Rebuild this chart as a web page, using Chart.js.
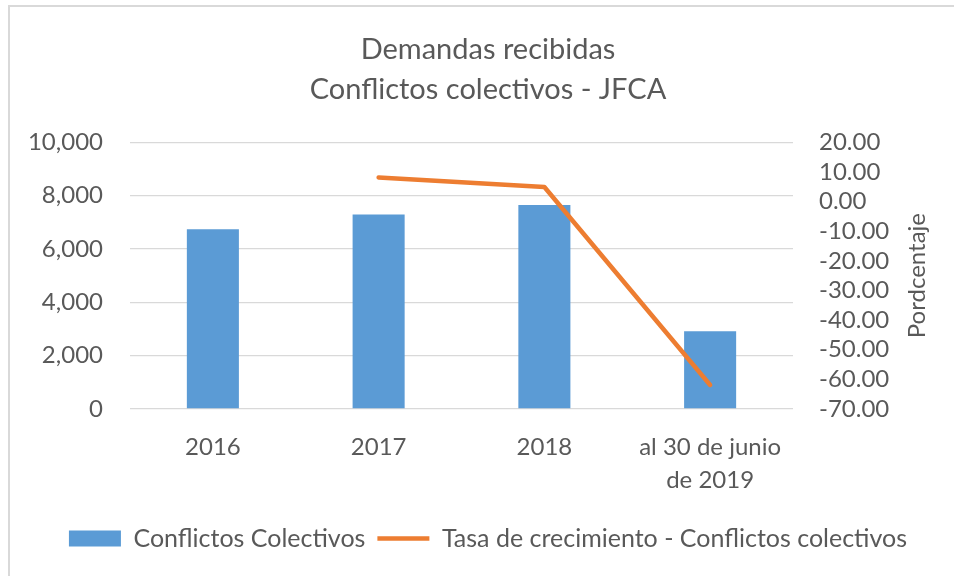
<!DOCTYPE html>
<html>
<head>
<meta charset="utf-8">
<script src="https://cdn.jsdelivr.net/npm/chart.js@4"></script>
<style>
  html, body { margin: 0; padding: 0; background: #ffffff; overflow: hidden; width: 954px; height: 576px; }
  #wrap { position: absolute; left: 8px; top: 5px; width: 960px; height: 620px; border: 2px solid #d9d9d9; box-sizing: border-box; background: #fff; }
  #c { position: absolute; left: 0; top: 0; }
</style>
</head>
<body>
<div id="wrap"><canvas id="c" width="956" height="616"></canvas></div>
<script>
// ---- data ----
const titleLines = ['Demandas recibidas', 'Conflictos colectivos - JFCA'];
const categories = ['2016', '2017', '2018', ['al 30 de junio', 'de 2019']];
const barLabel = 'Conflictos Colectivos';
const barValues = [6740, 7290, 7650, 2915];
const lineLabel = 'Tasa de crecimiento - Conflictos colectivos';
const lineValues = [null, 8.12, 4.87, -61.9];
const leftTicks = [0, 2000, 4000, 6000, 8000, 10000];
const rightTicks = [-70, -60, -50, -40, -30, -20, -10, 0, 10, 20];
const rightTitle = 'Pordcentaje';

const FONT = 'Lato, "Open Sans", sans-serif';
const TEXT = '#595959';
const GRID = '#d9d9d9';

const rightTitlePlugin = {
  id: 'rightTitle',
  afterDraw(chart) {
    const s = chart.scales.y1;
    const ctx = chart.ctx;
    ctx.save();
    ctx.font = '24px ' + FONT;
    ctx.fillStyle = TEXT;
    ctx.textAlign = 'center';
    ctx.textBaseline = 'middle';
    ctx.translate(s.right - 49, (s.top + s.bottom) / 2);
    ctx.rotate(-Math.PI / 2);
    ctx.fillText(rightTitle, 0, 0);
    ctx.restore();
  }
};

new Chart(document.getElementById('c'), {
  data: {
    labels: categories,
    datasets: [
      {
        type: 'line',
        label: lineLabel,
        data: lineValues,
        yAxisID: 'y1',
        borderColor: '#ED7D31',
        backgroundColor: '#ED7D31',
        borderWidth: 4.5,
        borderCapStyle: 'round',
        borderJoinStyle: 'round',
        pointRadius: 0,
        pointHoverRadius: 0,
        tension: 0,
        spanGaps: false,
        pointStyle: 'line',
        order: 1
      },
      {
        type: 'bar',
        label: barLabel,
        data: barValues,
        yAxisID: 'y',
        backgroundColor: '#5B9BD5',
        borderWidth: 0,
        barPercentage: 0.314,
        categoryPercentage: 1,
        pointStyle: 'rect',
        order: 2
      }
    ]
  },
  options: {
    responsive: false,
    animation: false,
    events: [],
    layout: { padding: { top: 12, left: 0, right: 0, bottom: 62 } },
    plugins: {
      title: {
        display: true,
        text: titleLines,
        color: TEXT,
        font: { family: FONT, size: 29, weight: 'normal', lineHeight: 1.4 },
        padding: { top: 10, bottom: 32 }
      },
      legend: {
        position: 'bottom',
        reverse: true,
        labels: {
          color: TEXT,
          font: { family: FONT, size: 25 },
          usePointStyle: true,
          pointStyleWidth: 52,
          boxHeight: 16,
          padding: 12
        }
      },
      tooltip: { enabled: false }
    },
    scales: {
      x: {
        type: 'category',
        offset: true,
        grid: { display: false, drawTicks: false },
        border: { display: false },
        ticks: { color: TEXT, font: { family: FONT, size: 24, lineHeight: 1.355 }, padding: 22, maxRotation: 0, autoSkip: false },
        afterFit(s) { s.height = 105; }
      },
      y: {
        position: 'left',
        min: 0, max: 10000,
        afterBuildTicks(s) { s.ticks = leftTicks.map(v => ({ value: v })); },
        grid: { color: GRID, lineWidth: 1.3, drawTicks: false },
        border: { display: false },
        ticks: {
          color: TEXT, font: { family: FONT, size: 24 }, padding: 27, autoSkip: false,
          callback: v => v.toLocaleString('en-US')
        },
        afterFit(s) { s.width = 120; }
      },
      y1: {
        position: 'right',
        min: -70, max: 20,
        afterBuildTicks(s) { s.ticks = rightTicks.map(v => ({ value: v })); },
        grid: { display: false, drawTicks: false },
        border: { display: false },
        ticks: {
          color: TEXT, font: { family: FONT, size: 24 }, padding: 26, autoSkip: false,
          callback: v => v.toFixed(2)
        },
        afterFit(s) { s.width = 173; }
      }
    }
  },
  plugins: [rightTitlePlugin]
});
</script>
</body>
</html>
